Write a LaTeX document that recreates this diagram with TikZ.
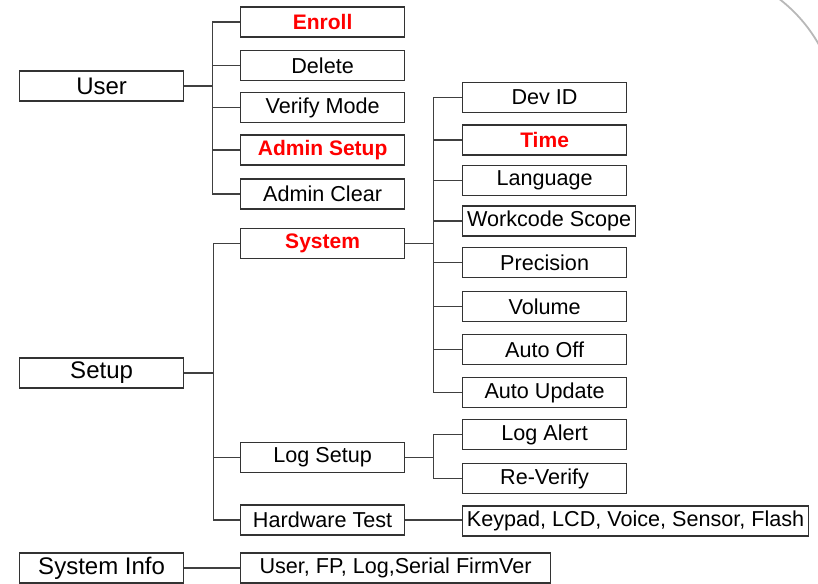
\documentclass[tikz,border=0pt]{standalone}
\usepackage{fontspec}
\setmainfont{Liberation Sans}
\begin{document}
\begin{tikzpicture}[x=0.5pt, y=-0.5pt,
    boxStyle/.style={draw=black!80, line width=0.6pt, minimum width=82pt, minimum height=15pt, inner sep=0pt, anchor=west, font=\fontsize{10.8}{13}\selectfont},
    topStyle/.style={boxStyle, font=\fontsize{12}{14}\selectfont},
    redStyle/.style={boxStyle, text=red, font=\fontsize{10.5}{13}\selectfont\bfseries},
    lineStyle/.style={draw=black!75, line width=0.6pt}]
    \useasboundingbox (0,0) rectangle (818,583);

    \node[topStyle](user) at (19, 86) {User};
    \node[topStyle](setup) at (19, 373) {Setup};
    \node[topStyle](sysinfo) at (19, 568) {System Info};

    \node[redStyle](enroll) at (240, 22) {Enroll};
    \node[boxStyle](delete) at (240, 65.5) {Delete};
    \node[boxStyle](verify) at (240, 107.5) {Verify Mode};
    \node[redStyle](adminsetup) at (240, 150) {Admin Setup};
    \node[boxStyle](adminclear) at (240, 194) {Admin Clear};

    \node[redStyle](system) at (240, 243.5) {System};
    \node[boxStyle](logsetup) at (240, 457.5) {Log Setup};
    \node[boxStyle](hwtest) at (240, 520) {Hardware Test};
    \node[boxStyle, minimum width=155pt](firmver) at (240, 568) {User, FP, Log,Serial FirmVer};

    \node[boxStyle](devid) at (462, 97.5) {Dev ID};
    \node[redStyle](time) at (462, 140) {Time};
    \node[boxStyle](language) at (462, 180.5) {Language};
    \node[boxStyle, minimum width=86.5pt](workcode) at (462, 221) {Workcode Scope};
    \node[boxStyle](precision) at (462, 262.5) {Precision};
    \node[boxStyle](volume) at (462, 306.5) {Volume};
    \node[boxStyle](autooff) at (462, 349.5) {Auto Off};
    \node[boxStyle](autoupdate) at (462, 392.5) {Auto Update};
    \node[boxStyle](logalert) at (462, 434.5) {Log Alert};
    \node[boxStyle](reverify) at (462, 478.5) {Re-Verify};
    \node[boxStyle, minimum width=173pt](keypad) at (462, 521) {Keypad, LCD, Voice, Sensor, Flash};

    \foreach \c in {enroll, delete, verify, adminsetup, adminclear}
        \draw[lineStyle] (user.east) -- ++(28,0) |- (\c.west);
    \foreach \c in {system, logsetup, hwtest}
        \draw[lineStyle] (setup.east) -- ++(29,0) |- (\c.west);
    \foreach \c in {devid, time, language, workcode, precision, volume, autooff, autoupdate}
        \draw[lineStyle] (system.east) -- ++(28,0) |- (\c.west);
    \foreach \c in {logalert, reverify}
        \draw[lineStyle] (logsetup.east) -- ++(28,0) |- (\c.west);
    \draw[lineStyle] (hwtest.east) -- (hwtest.east -| keypad.west);
    \draw[lineStyle] (sysinfo) -- (firmver);

    % grey edge in the corner
    \begin{scope}
        \clip (760,0) rectangle (818,70);
        \draw[black!28, line width=0.9pt] (688,118) circle[radius=75pt];
    \end{scope}
\end{tikzpicture}
\end{document}
